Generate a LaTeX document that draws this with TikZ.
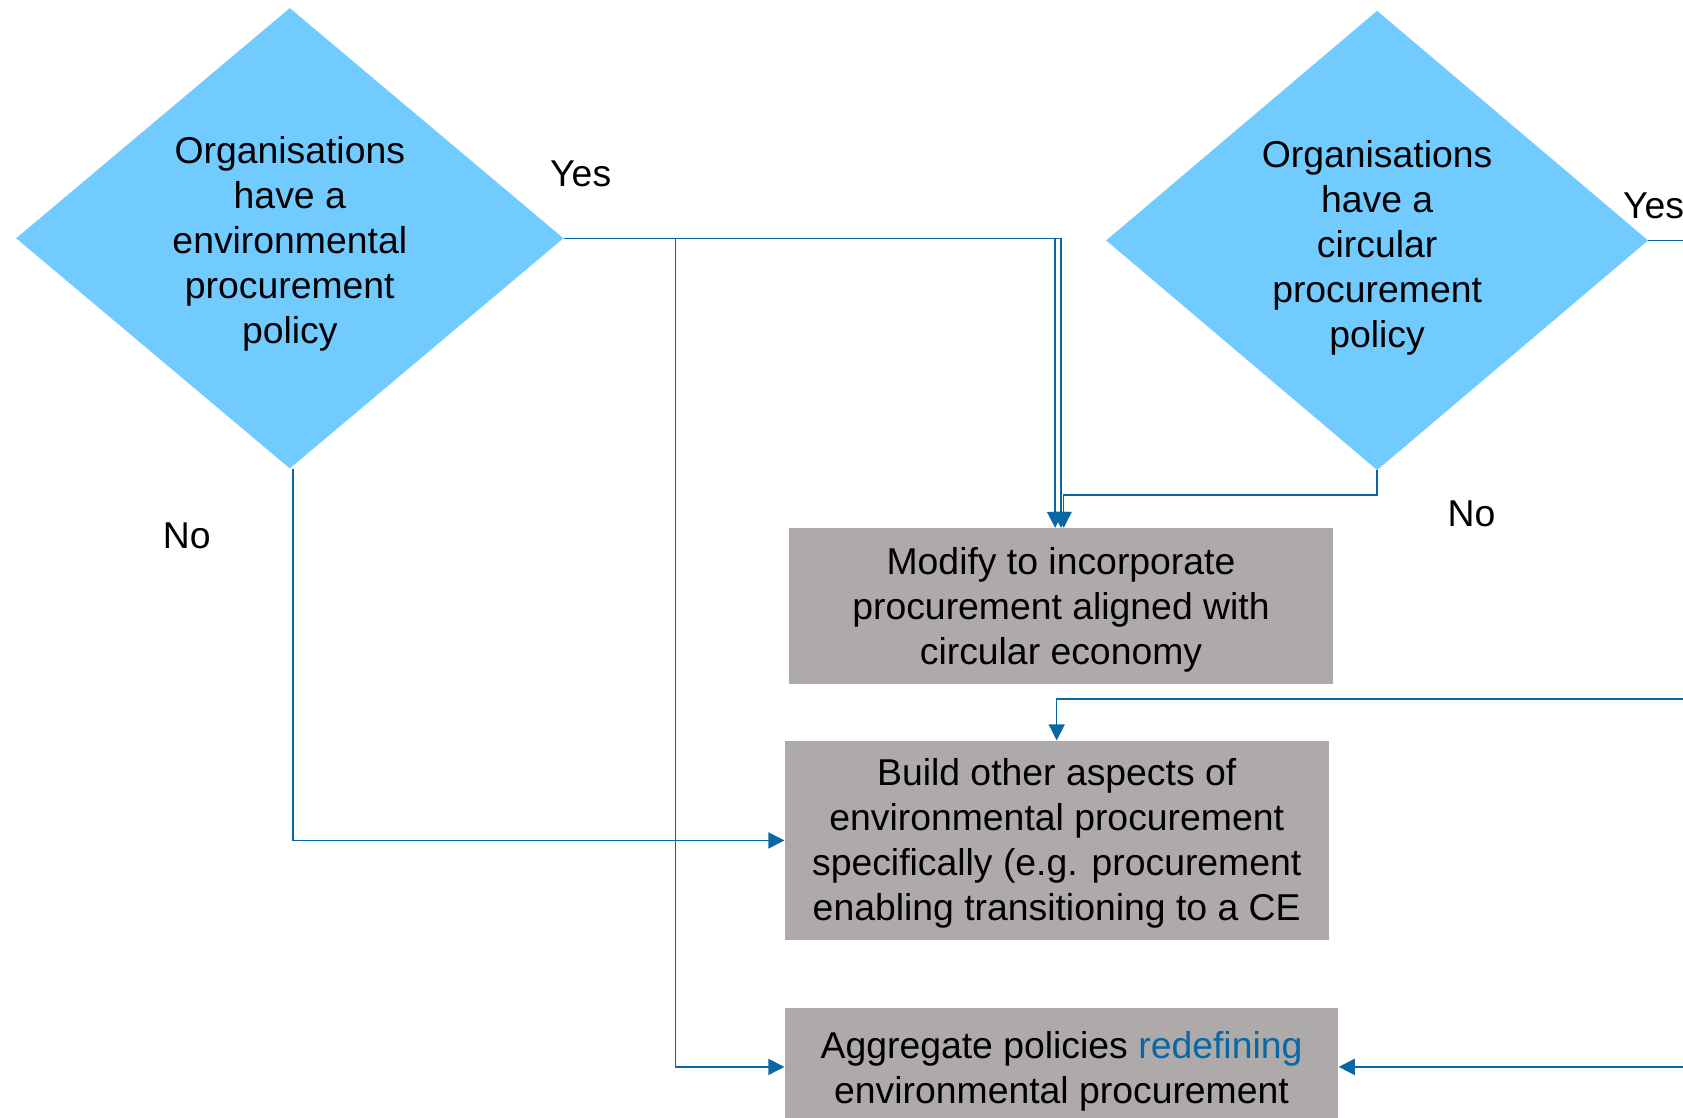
\documentclass[tikz,border=0pt]{standalone}
\usepackage{fontspec}
\setmainfont{Liberation Sans}
\usetikzlibrary{shapes.geometric,arrows.meta}
\definecolor{decisionblue}{RGB}{114,203,255}
\definecolor{stepgray}{RGB}{173,170,169}
\definecolor{flowblue}{RGB}{8,103,164}
% strut that lowers a multi-line block inside its shape
\newcommand{\lowerby}[1]{\rule{0pt}{\dimexpr 25pt+2\dimexpr #1\relax\relax}}
\begin{document}
\begin{tikzpicture}[x=1pt,y=-1pt,
  every node/.style={font=\fontsize{34.8}{42}\selectfont},
  decision/.style={diamond, fill=decisionblue, inner sep=0pt, aspect=1.19, align=center},
  stepbox/.style={rectangle, fill=stepgray, inner sep=0pt, align=center},
  flow/.style={draw=flowblue, line width=1.4pt},
  arr/.style={flow, -{Triangle[length=15pt,width=15pt]}},
  lbl/.style={inner sep=0pt}]
\clip (0,0) rectangle (1568,1041);
\fill[white] (0,0) rectangle (1568,1041);

% decisions
\node[decision, minimum width=510pt, minimum height=429pt] (d1) at (270,222)
  {\lowerby{5pt}Organisations\\have a\\environmental\\procurement\\policy};
\node[decision, minimum width=505pt, minimum height=428pt] (d2) at (1283,224)
  {\lowerby{7pt}Organisations\\have a\\circular\\procurement\\policy};

% actions
\node[stepbox, minimum width=507pt, minimum height=145pt] (m1) at (988.5,564.5)
  {\lowerby{4pt}Modify to incorporate\\procurement aligned with\\circular economy};
\node[stepbox, minimum width=507pt, minimum height=186pt] (m2) at (984.5,783)
  {\lowerby{3pt}Build other aspects of\\environmental procurement\\specifically (e.g. procurement\\enabling transitioning to a CE};
\node[stepbox, minimum width=516pt, minimum height=110pt] (m3) at (989,994)
  {\lowerby{4pt}Aggregate policies \textcolor{flowblue}{redefining}\\environmental procurement};

% branch labels
\node[lbl] (y1) at (541,162) {Yes};
\node[lbl] (n1) at (174,499) {No};
\node[lbl, anchor=west] (y2) at (1512,192) {Yes};
\node[lbl] (n2) at (1371,479) {No};

% junctions and ends leaving the sheet
\path (d1.east) ++(104,0) coordinate (split);
\coordinate (eR1) at (1590,651);
\coordinate (eR2) at (1590,994);

% connectors
\draw[arr] (d1.east) -| ([xshift=-5.5pt]m1.north);
\draw[arr] (d1.east) -| (m1.north);
\draw[arr] (d2.south) -- ++(0,23) -| ([xshift=2.5pt]m1.north);
\draw[arr] (split) |- (m3.west);
\draw[arr] ([xshift=3pt]d1.south) |- (m2.west);
\draw[flow] (d2.east) -- ++(60,0);
\draw[arr] (eR1) -| (m2.north);
\draw[arr] (eR2) -- (m3.east);
\end{tikzpicture}
\end{document}
